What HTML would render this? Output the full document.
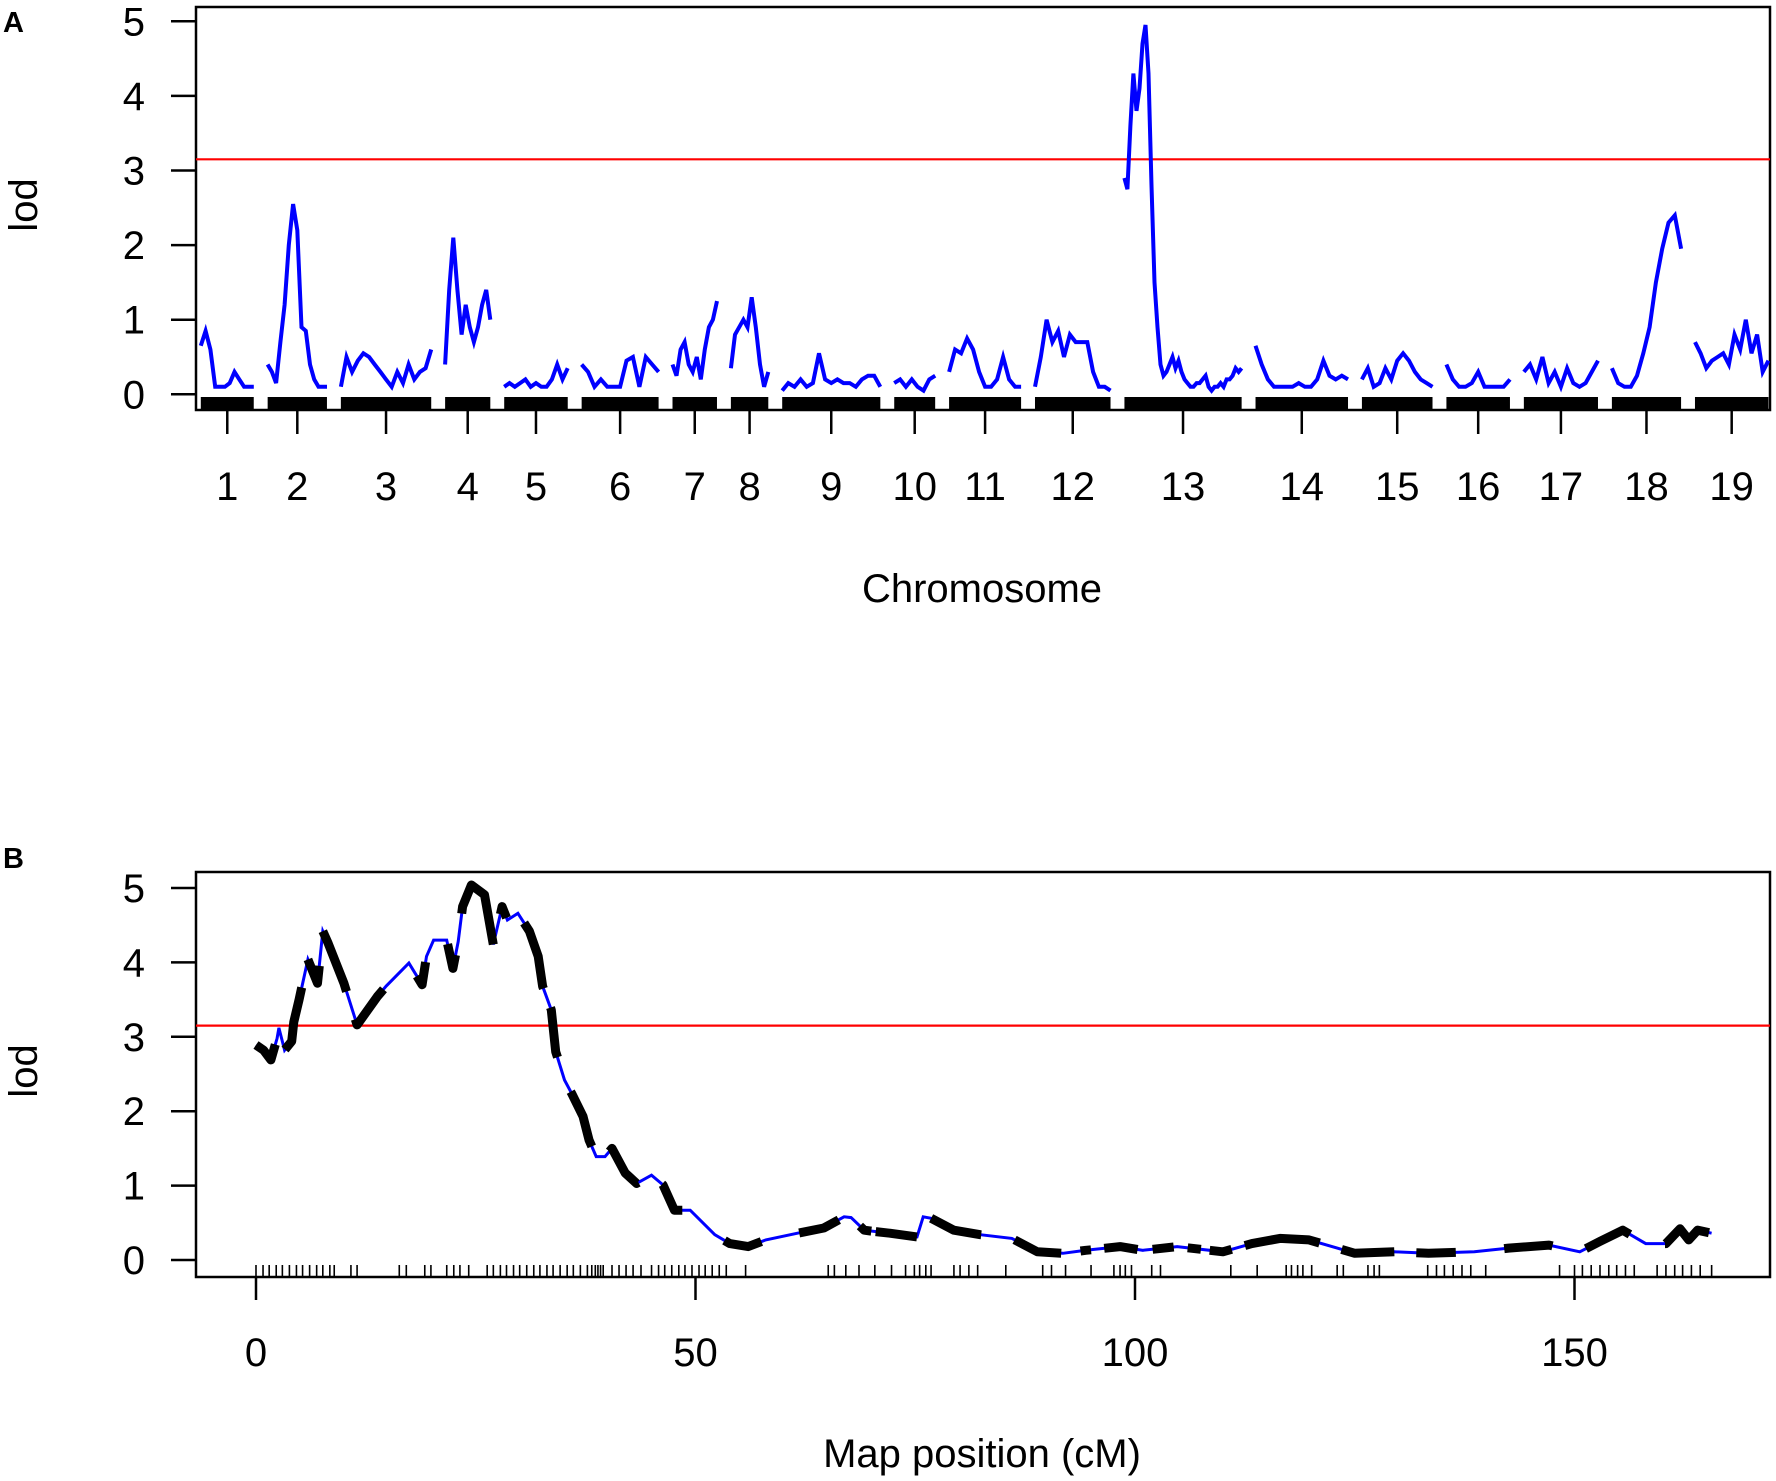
<!DOCTYPE html>
<html><head><meta charset="utf-8"><style>
html,body{margin:0;padding:0;background:#fff;}
svg{display:block;font-family:"Liberation Sans",Arial,sans-serif;}
</style></head><body>
<svg id="fig" width="1776" height="1481" viewBox="0 0 1776 1481" xmlns="http://www.w3.org/2000/svg">
<g id="panelA"></g>
<g id="panelB"></g>
</svg>
<script>
// ---------- Panel A data ----------
const chromNames = ["1","2","3","4","5","6","7","8","9","10","11","12","13","14","15","16","17","18","19"];
const chromLengths = [75,84,128,64,90,109,63,53,139,58,102,107,166,131,100,90,105,98,104];
const lodChr1 = [0.65,0.85,0.6,0.1,0.1,0.1,0.15,0.3,0.2,0.1,0.1,0.1];
const lodChr2 = [0.4,0.3,0.15,0.7,1.2,2.0,2.55,2.2,0.9,0.85,0.4,0.2,0.1,0.1,0.1];
const lodChr3 = [0.1,0.5,0.3,0.45,0.55,0.5,0.4,0.3,0.2,0.1,0.3,0.15,0.4,0.2,0.3,0.35,0.6];
const lodChr4 = [0.4,1.4,2.1,1.4,0.8,1.2,0.9,0.7,0.9,1.2,1.4,1.0];
const lodChr5 = [0.1,0.15,0.1,0.15,0.2,0.1,0.15,0.1,0.1,0.2,0.4,0.2,0.35];
const lodChr6 = [0.4,0.3,0.1,0.2,0.1,0.1,0.1,0.45,0.5,0.1,0.5,0.4,0.3];
const lodChr7 = [0.4,0.25,0.6,0.7,0.4,0.3,0.5,0.2,0.6,0.9,1.0,1.25];
const lodChr8 = [0.35,0.8,0.9,1.0,0.9,1.3,0.9,0.4,0.1,0.3];
const lodChr9 = [0.05,0.15,0.1,0.2,0.1,0.15,0.55,0.2,0.15,0.2,0.15,0.15,0.1,0.2,0.25,0.25,0.1];
const lodChr10 = [0.15,0.2,0.1,0.2,0.1,0.05,0.2,0.25];
const lodChr11 = [0.3,0.6,0.55,0.75,0.6,0.3,0.1,0.1,0.2,0.5,0.2,0.1,0.1];
const lodChr12 = [0.1,0.5,1.0,0.7,0.85,0.5,0.8,0.7,0.7,0.7,0.3,0.1,0.1,0.05];
const lodChr13 = [2.9,2.75,3.6,4.3,3.8,4.1,4.7,4.95,4.3,2.8,1.5,0.9,0.4,0.25,0.3,0.4,0.5,0.35,0.45,0.3,0.2,0.15,0.1,0.1,0.15,0.15,0.2,0.25,0.1,0.05,0.1,0.1,0.15,0.1,0.2,0.2,0.25,0.35,0.3,0.35];
const lodChr14 = [0.65,0.4,0.2,0.1,0.1,0.1,0.1,0.15,0.1,0.1,0.2,0.45,0.25,0.2,0.25,0.2];
const lodChr15 = [0.2,0.35,0.1,0.15,0.35,0.2,0.45,0.55,0.45,0.3,0.2,0.15,0.1];
const lodChr16 = [0.4,0.2,0.1,0.1,0.15,0.3,0.1,0.1,0.1,0.1,0.2];
const lodChr17 = [0.3,0.4,0.2,0.5,0.15,0.3,0.1,0.35,0.15,0.1,0.15,0.3,0.45];
const lodChr18 = [0.35,0.15,0.1,0.1,0.25,0.55,0.9,1.5,1.95,2.3,2.4,1.95];
const lodChr19 = [0.7,0.55,0.35,0.45,0.5,0.55,0.4,0.8,0.6,1.0,0.55,0.8,0.3,0.45];
const lodTicks = [0,1,2,3,4,5];
const threshold = 3.15;

// ---------- Panel B data ----------
const posB = [0,0.86,1.7,2.4,2.6,3.25,4.06,4.3,4.9,5.9,7.0,7.6,8.2,10,11.5,13.8,14.8,17.4,18.9,19.4,20.2,21.7,22.4,23,23.5,24.5,26,27,28,28.6,29.8,31.1,32.1,32.6,33.6,34.1,35.1,35.9,37.2,37.9,38.7,39.7,40.5,42,43.3,45,46.3,47.6,49.4,52.2,53.9,56,58,61.6,64.6,66.9,67.7,69.2,72.1,75.2,75.9,76.8,79.4,82.4,86,88.9,91.8,94.4,98.3,100.9,104.8,110,113.3,116.5,119.8,123,125,129.5,133.4,138.6,142.5,147.1,150.6,152.9,155.5,158.1,160.4,162,163,164,165.6];
const lodB = [2.89,2.82,2.69,2.98,3.12,2.82,2.94,3.2,3.5,4.04,3.72,4.42,4.26,3.72,3.16,3.54,3.68,3.99,3.7,4.08,4.3,4.3,3.92,4.28,4.75,5.04,4.91,4.24,4.75,4.57,4.66,4.42,4.08,3.68,3.36,2.8,2.42,2.24,1.93,1.61,1.39,1.39,1.5,1.17,1.03,1.14,1.01,0.67,0.67,0.34,0.22,0.18,0.27,0.36,0.43,0.58,0.57,0.4,0.36,0.31,0.58,0.56,0.4,0.34,0.29,0.11,0.09,0.13,0.18,0.13,0.18,0.11,0.22,0.29,0.27,0.16,0.09,0.11,0.09,0.11,0.16,0.2,0.11,0.25,0.4,0.22,0.22,0.42,0.27,0.4,0.36];
const blackStart = [0,3.3,5.9,7.6,11.3,18.3,21.8,23.4,27.8,30.5,33.5,35.8,40.2,46.2,53.3,61.8,68.7,70.5,76.8,86.3,93.8,96.5,102,106,108.5,112.5,123.5,132,142,151.3,160.3];
const blackEnd = [2.2,5.2,7.2,10.3,14.5,19.3,22.7,27,28.5,32.7,34.3,38.2,43.5,48.5,57.5,66.3,70,75.2,82.5,91.6,95,100.3,104.4,107.5,111,121,129.5,136.5,147.5,156.3,165.3];
const markersB = [0,0.8,1.5,2.3,3.0,3.8,4.6,5.3,6.1,6.9,7.6,8.4,8.9,10.8,11.5,16.3,17.1,19.2,19.9,21.7,22.5,23.2,24.2,26.3,27.0,27.8,28.5,29.3,30.0,30.8,31.6,32.3,33.1,33.8,34.6,35.4,36.1,36.9,37.7,38.2,38.6,38.9,39.2,39.5,40.5,41.3,42.1,42.9,43.8,45.0,45.8,46.5,47.3,48.1,48.8,49.6,50.4,51.1,51.9,52.7,53.5,55.7,65.1,65.8,67.1,68.6,70.4,72.3,73.9,74.9,75.5,76.2,76.8,79.4,80.1,81.1,82.1,85.3,89.5,90.5,92.1,95,97.6,98.3,98.9,99.6,101.9,102.9,110.9,113.9,117.2,117.8,118.5,119.1,120.1,123,123.7,126.5,127.2,127.8,133.3,134.3,135.2,136.2,137.2,138.2,139.9,148.3,150,150.9,151.9,152.9,153.9,154.8,155.8,156.8,159.4,160.4,161.4,162.3,163.3,164.3,165.6];
const xTicksB = [0,50,100,150];

// ---------- helpers ----------
const NS = "http://www.w3.org/2000/svg";
function mk(tag, attrs, parent){
  const e = document.createElementNS(NS, tag);
  for (const k in attrs) e.setAttribute(k, attrs[k]);
  parent.appendChild(e);
  return e;
}
const FS = 40;

// ---------- Panel A ----------
const gA = document.getElementById('panelA');
const A = {l:196, r:1770, t:7, b:410};
const kA = 0.706, gapA = 13.9, startA = 200.8;
const yA = v => 394.3 - v*74.6;
const chromStarts = [];
let cur = startA;
for (let i=0;i<chromLengths.length;i++){ chromStarts.push(cur); cur += chromLengths[i]*kA + gapA; }
const xA = (ci, frac) => chromStarts[ci] + frac*chromLengths[ci]*kA;
const allLodA = [lodChr1,lodChr2,lodChr3,lodChr4,lodChr5,lodChr6,lodChr7,lodChr8,lodChr9,lodChr10,lodChr11,lodChr12,lodChr13,lodChr14,lodChr15,lodChr16,lodChr17,lodChr18,lodChr19];

let boxA = mk('rect',{x:A.l,y:A.t,width:A.r-A.l,height:A.b-A.t,fill:'none',stroke:'#000','stroke-width':2.5},gA);



for (let i=0;i<chromLengths.length;i++){
  const rr = mk('rect',{x:xA(i,0),y:397,width:chromLengths[i]*kA,height:13,fill:'#000'},gA);
  
  
}
const thA = mk('line',{x1:A.l,x2:A.r,y1:yA(threshold),y2:yA(threshold),stroke:'#ff0000','stroke-width':2.2},gA);


for (let i=0;i<allLodA.length;i++){
  const vals = allLodA[i];
  const pts = vals.map((v,j)=> xA(i, j/(vals.length-1)).toFixed(1)+','+yA(v).toFixed(1)).join(' ');
  const pl = mk('polyline',{points:pts,fill:'none',stroke:'#0000ff','stroke-width':4,'stroke-linejoin':'miter'},gA);
  
  
}
lodTicks.forEach(t=>{
  const ln = mk('line',{x1:171,x2:A.l,y1:yA(t),y2:yA(t),stroke:'#000','stroke-width':2.5},gA);
  
  
  const tx = mk('text',{x:145,y:yA(t)+14,'text-anchor':'end','font-size':FS},gA);
  tx.textContent = t;
  
  
});
chromNames.forEach((n,i)=>{
  const xm = xA(i,0.5);
  const ln = mk('line',{x1:xm,x2:xm,y1:A.b,y2:434,stroke:'#000','stroke-width':2.5},gA);
  
  
  const tx = mk('text',{x:xm,y:500,'text-anchor':'middle','font-size':FS},gA);
  tx.textContent = n;
  
  
});
let t1 = mk('text',{x:982,y:602,'text-anchor':'middle','font-size':FS},gA);
t1.textContent='Chromosome';


let t2 = mk('text',{x:0,y:0,'text-anchor':'middle','font-size':FS,transform:'translate(37,205) rotate(-90)'},gA);
t2.textContent='lod';


let t3 = mk('text',{x:3,y:32,'font-size':29,'font-weight':'bold'},gA);
t3.textContent='A';



// ---------- Panel B ----------
const gB = document.getElementById('panelB');
const B = {l:196, r:1770, t:872, b:1277};
const xB = cm => 256 + cm*8.79;
const yB = v => 1260 - v*74.4;

let boxB = mk('rect',{x:B.l,y:B.t,width:B.r-B.l,height:B.b-B.t,fill:'none',stroke:'#000','stroke-width':2.5},gB);


markersB.forEach(m=>{
  const ln = mk('line',{x1:xB(m),x2:xB(m),y1:1265,y2:1276,stroke:'#000','stroke-width':1.6},gB);
  
  
});
const thB = mk('line',{x1:B.l,x2:B.r,y1:yB(threshold),y2:yB(threshold),stroke:'#ff0000','stroke-width':2.2},gB);


function lodAt(c){
  for (let i=0;i<posB.length-1;i++){
    if (c>=posB[i] && c<=posB[i+1]){
      const f=(c-posB[i])/(posB[i+1]-posB[i]||1);
      return lodB[i]+f*(lodB[i+1]-lodB[i]);
    }
  }
  return lodB[lodB.length-1];
}
const ptsB = posB.map((p,i)=>xB(p).toFixed(1)+','+yB(lodB[i]).toFixed(1)).join(' ');
const blue = mk('polyline',{points:ptsB,fill:'none',stroke:'#0000ff','stroke-width':3},gB);


for (let s=0;s<blackStart.length;s++){
  const a=blackStart[s], e=blackEnd[s];
  const pts=[[a,lodAt(a)]];
  posB.forEach((p,i)=>{ if(p>a && p<e) pts.push([p,lodB[i]]); });
  pts.push([e,lodAt(e)]);
  const pl = mk('polyline',{points:pts.map(q=>xB(q[0]).toFixed(1)+','+yB(q[1]).toFixed(1)).join(' '),fill:'none',stroke:'#000','stroke-width':9,'stroke-linejoin':'round'},gB);
  
  
}
lodTicks.forEach(t=>{
  const ln = mk('line',{x1:171,x2:B.l,y1:yB(t),y2:yB(t),stroke:'#000','stroke-width':2.5},gB);
  
  
  const tx = mk('text',{x:145,y:yB(t)+14,'text-anchor':'end','font-size':FS},gB);
  tx.textContent = t;
  
  
});
xTicksB.forEach(t=>{
  const ln = mk('line',{x1:xB(t),x2:xB(t),y1:B.b,y2:1300,stroke:'#000','stroke-width':2.5},gB);
  
  
  const tx = mk('text',{x:xB(t),y:1366,'text-anchor':'middle','font-size':FS},gB);
  tx.textContent = t;
  
  
});
let t4 = mk('text',{x:982,y:1467,'text-anchor':'middle','font-size':FS},gB);
t4.textContent='Map position (cM)';


let t5 = mk('text',{x:0,y:0,'text-anchor':'middle','font-size':FS,transform:'translate(37,1071) rotate(-90)'},gB);
t5.textContent='lod';


let t6 = mk('text',{x:3,y:868,'font-size':29,'font-weight':'bold'},gB);
t6.textContent='B';


</script>
</body></html>
